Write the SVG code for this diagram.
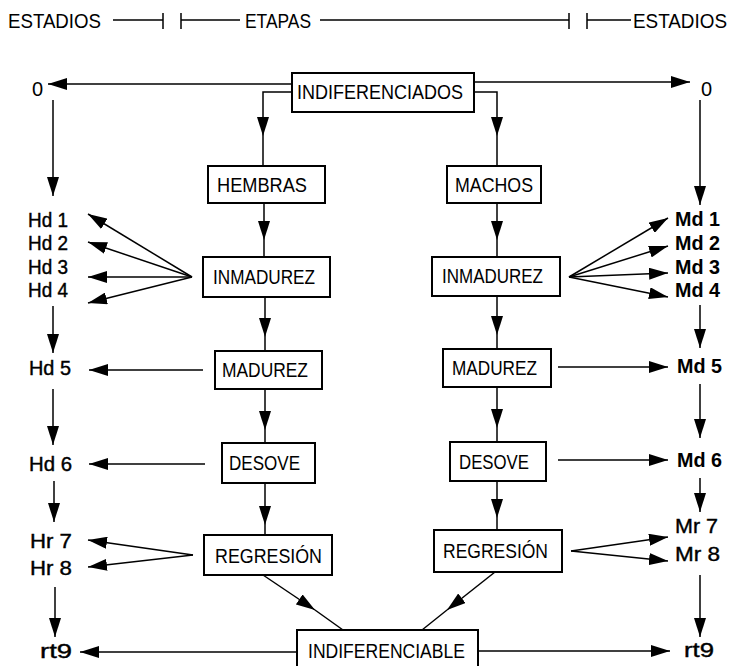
<svg xmlns="http://www.w3.org/2000/svg" width="732" height="666" viewBox="0 0 732 666">
<defs>
<marker id="a" viewBox="0 0 19 12" refX="19" refY="6" markerWidth="19" markerHeight="12" markerUnits="userSpaceOnUse" orient="auto"><path d="M0,0L19,6L0,12z" fill="#000"/></marker>
</defs>
<style>
rect{fill:#fff;stroke:#000;stroke-width:2}
text{font-family:"Liberation Sans",Arial,sans-serif;font-size:20px;fill:#000}
.l{stroke:#000;stroke-width:0.4}
.b{font-weight:bold}
.c path,.h path{stroke:#000;stroke-width:1.5;fill:none}
.c .m{marker-end:url(#a)}
</style>
<rect x="0" y="0" width="732" height="666" style="stroke:none;fill:#fff"/>
<g id="header" class="h">
<text x="8" y="28" textLength="93" lengthAdjust="spacingAndGlyphs">ESTADIOS</text>
<path d="M113,20H163M163,13V29M181,13V29M181,20H240M320,20H569M569,13V29M587,13V29M587,20H631"/>
<text x="245" y="28" textLength="66" lengthAdjust="spacingAndGlyphs">ETAPAS</text>
<text x="633" y="28" textLength="94" lengthAdjust="spacingAndGlyphs">ESTADIOS</text>
</g>
<g id="connectors" class="c">
<path class="m" d="M292,84H48"/>
<path class="m" d="M474,82H690"/>
<path class="m" d="M292,92H263V136"/><path d="M263,136V166"/>
<path class="m" d="M474,92H497V136"/><path d="M497,136V166"/>
<path class="m" d="M264,203V240"/><path d="M264,240V257"/>
<path class="m" d="M497,203V240"/><path d="M497,240V257"/>
<path class="m" d="M265,297V337"/><path d="M265,337V351"/>
<path class="m" d="M497,296V335"/><path d="M497,335V349"/>
<path class="m" d="M265,389V430"/><path d="M265,430V443"/>
<path class="m" d="M497,387V428"/><path d="M497,428V442"/>
<path class="m" d="M265,483V525"/><path d="M265,525V535"/>
<path class="m" d="M497,481V518"/><path d="M497,518V530"/>
<path class="m" d="M263,575L315,610"/><path d="M315,610L343,630"/>
<path class="m" d="M495,572L447,610"/><path d="M447,610L422,630"/>
<path class="m" d="M192,277L88,214"/>
<path class="m" d="M192,277L88,242"/>
<path class="m" d="M192,277L88,277"/>
<path class="m" d="M192,277L88,303"/>
<path class="m" d="M569,277L668,218"/>
<path class="m" d="M569,277L668,246"/>
<path class="m" d="M569,277L668,273"/>
<path class="m" d="M569,277L668,297"/>
<path class="m" d="M203,370H89"/>
<path class="m" d="M205,464H89"/>
<path class="m" d="M558,367H668"/>
<path class="m" d="M558,460H668"/>
<path class="m" d="M193,555L88,540"/>
<path class="m" d="M193,555L88,567"/>
<path class="m" d="M571,551L668,537"/>
<path class="m" d="M571,551L668,561"/>
<path class="m" d="M297,652H80"/>
<path class="m" d="M478,651H670"/>
<path class="m" d="M53,100V196"/>
<path class="m" d="M53,306V353"/>
<path class="m" d="M53,389V445"/>
<path class="m" d="M54,481V522"/>
<path class="m" d="M55,587V637"/>
<path class="m" d="M700,100V205"/>
<path class="m" d="M700,305V348"/>
<path class="m" d="M700,384V438"/>
<path class="m" d="M700,478V512"/>
<path class="m" d="M700,575V637"/>
</g>
<g id="n_indiferenciados"><rect x="292" y="73" width="182" height="39"/><text x="297" y="99" textLength="166" lengthAdjust="spacingAndGlyphs">INDIFERENCIADOS</text></g>
<g id="n_hembras"><rect x="208" y="166" width="117" height="37"/><text x="217" y="192" textLength="90" lengthAdjust="spacingAndGlyphs">HEMBRAS</text></g>
<g id="n_machos"><rect x="447" y="166" width="94" height="37"/><text x="455" y="192" textLength="78" lengthAdjust="spacingAndGlyphs">MACHOS</text></g>
<g id="n_inmadurez_h"><rect x="203" y="257" width="127" height="40"/><text x="213" y="284" textLength="102" lengthAdjust="spacingAndGlyphs">INMADUREZ</text></g>
<g id="n_inmadurez_m"><rect x="432" y="257" width="128" height="39"/><text x="442" y="283" textLength="101" lengthAdjust="spacingAndGlyphs">INMADUREZ</text></g>
<g id="n_madurez_h"><rect x="215" y="351" width="107" height="38"/><text x="222" y="377" textLength="86" lengthAdjust="spacingAndGlyphs">MADUREZ</text></g>
<g id="n_madurez_m"><rect x="443" y="349" width="108" height="38"/><text x="452" y="375" textLength="85" lengthAdjust="spacingAndGlyphs">MADUREZ</text></g>
<g id="n_desove_h"><rect x="222" y="443" width="93" height="40"/><text x="229" y="470" textLength="71" lengthAdjust="spacingAndGlyphs">DESOVE</text></g>
<g id="n_desove_m"><rect x="450" y="442" width="96" height="39"/><text x="459" y="469" textLength="70" lengthAdjust="spacingAndGlyphs">DESOVE</text></g>
<g id="n_regresion_h"><rect x="204" y="535" width="128" height="40"/><text x="215" y="563" textLength="107" lengthAdjust="spacingAndGlyphs">REGRESIÓN</text></g>
<g id="n_regresion_m"><rect x="434" y="530" width="128" height="42"/><text x="443" y="558" textLength="105" lengthAdjust="spacingAndGlyphs">REGRESIÓN</text></g>
<g id="n_indiferenciable"><rect x="297" y="630" width="181" height="50"/><text x="308" y="658" textLength="157" lengthAdjust="spacingAndGlyphs">INDIFERENCIABLE</text></g>
<g id="s_h0"><text x="32" y="96">0</text></g>
<g id="s_m0"><text x="701" y="96">0</text></g>
<g id="s_hd1"><text class="l" x="28" y="227" textLength="40" lengthAdjust="spacingAndGlyphs">Hd 1</text></g>
<g id="s_hd2"><text class="l" x="28" y="250" textLength="40" lengthAdjust="spacingAndGlyphs">Hd 2</text></g>
<g id="s_hd3"><text class="l" x="28" y="274" textLength="40" lengthAdjust="spacingAndGlyphs">Hd 3</text></g>
<g id="s_hd4"><text class="l" x="28" y="297" textLength="40" lengthAdjust="spacingAndGlyphs">Hd 4</text></g>
<g id="s_hd5"><text class="l" x="29" y="375" textLength="42" lengthAdjust="spacingAndGlyphs">Hd 5</text></g>
<g id="s_hd6"><text class="l" x="29" y="471" textLength="43" lengthAdjust="spacingAndGlyphs">Hd 6</text></g>
<g id="s_hr7"><text class="l" x="30" y="548" textLength="42" lengthAdjust="spacingAndGlyphs">Hr 7</text></g>
<g id="s_hr8"><text class="l" x="30" y="575" textLength="42" lengthAdjust="spacingAndGlyphs">Hr 8</text></g>
<g id="s_hrt9"><text class="l" x="40" y="658" textLength="32" lengthAdjust="spacingAndGlyphs">rt9</text></g>
<g id="s_md1"><text class="b" x="675" y="226" textLength="45" lengthAdjust="spacingAndGlyphs">Md 1</text></g>
<g id="s_md2"><text class="b" x="675" y="250" textLength="45" lengthAdjust="spacingAndGlyphs">Md 2</text></g>
<g id="s_md3"><text class="b" x="675" y="274" textLength="45" lengthAdjust="spacingAndGlyphs">Md 3</text></g>
<g id="s_md4"><text class="b" x="675" y="297" textLength="45" lengthAdjust="spacingAndGlyphs">Md 4</text></g>
<g id="s_md5"><text class="b" x="677" y="373" textLength="45" lengthAdjust="spacingAndGlyphs">Md 5</text></g>
<g id="s_md6"><text class="b" x="677" y="467" textLength="45" lengthAdjust="spacingAndGlyphs">Md 6</text></g>
<g id="s_mr7"><text class="l" x="675" y="533" textLength="43" lengthAdjust="spacingAndGlyphs">Mr 7</text></g>
<g id="s_mr8"><text class="l" x="675" y="561" textLength="45" lengthAdjust="spacingAndGlyphs">Mr 8</text></g>
<g id="s_mrt9"><text class="l" x="684" y="657" textLength="30" lengthAdjust="spacingAndGlyphs">rt9</text></g>
</svg>
